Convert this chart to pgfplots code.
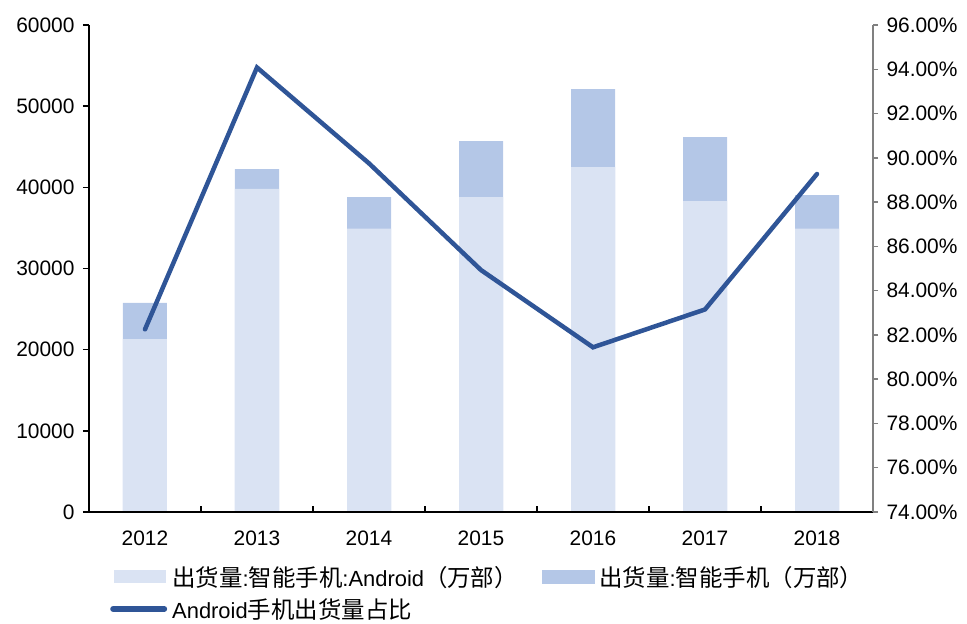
\documentclass[border=0pt]{standalone}
\usepackage{pgfplots}
\pgfplotsset{compat=1.18}
\usepackage{fontspec}
\setmainfont{Liberation Sans}
\newfontfamily\cjk{Noto Sans CJK SC}[Scale=1.07]
\definecolor{andr}{HTML}{DAE3F3}
\definecolor{tot}{HTML}{B4C7E7}
\definecolor{ln}{HTML}{2F5597}
\begin{document}
\begin{tikzpicture}
\useasboundingbox (-89bp,-112bp) rectangle (878bp,512bp);
\pgfplotsset{base/.style={scale only axis, width=784bp, height=487bp, at={(0,0)}, anchor=south west,
  xmin=-0.5, xmax=6.5, /pgf/number format/assume math mode=true,
  tick label style={font=\fontsize{21}{25}\selectfont}}}
% bars
\begin{axis}[base, ymin=0, ymax=60000, ytick={0,10000,...,60000}, scaled y ticks=false,
  yticklabel style={/pgf/number format/1000 sep={}}, yticklabel shift=5bp,
  axis y line*=left, axis x line*=bottom, axis line style={-, black, line width=1.5bp},
  tick align=outside, major tick length=6bp, tick style={black, line width=1.5bp},
  xtick={0,...,6}, xticklabels={2012,2013,2014,2015,2016,2017,2018}, xtick style={draw=none},
  xticklabel shift=9bp,
  ybar, bar width=44bp,
  legend columns=2,
  legend style={draw=none, fill=none, at={(0,0)}, anchor=north west, xshift=21bp, yshift=-54bp,
    font=\fontsize{22}{26}\selectfont, inner sep=0pt, row sep=10.5bp, column sep=0bp,
    nodes={inner sep=0bp},
    /tikz/every odd column/.append style={column sep=5bp},
    /tikz/every even column/.append style={column sep=24bp}},
  legend cell align=left]
\addplot[fill=tot, draw=none, bar shift=0pt, forget plot] coordinates {(0,25750) (1,42250) (2,38800) (3,45700) (4,52100) (5,46200) (6,39050)};
\addplot[fill=andr, draw=none, bar shift=0pt, legend image code/.code={\fill[andr] (0bp,-6.5bp) rectangle (52bp,6.5bp);}] coordinates {(0,21300) (1,39800) (2,34900) (3,38800) (4,42500) (5,38300) (6,34900)};
\addlegendentry{{\cjk 出货量}:{\cjk 智能手机}:Android{\cjk （万部）}}
\addlegendimage{legend image code/.code={\fill[tot] (0bp,-6.5bp) rectangle (52bp,6.5bp);}}
\addlegendentry{{\cjk 出货量}:{\cjk 智能手机（万部）}}
\addlegendimage{legend image code/.code={\path[draw=none, fill=none] (0bp,-6.5bp) rectangle (52bp,6.5bp); \draw[ln, line width=6bp, line cap=round] (-1bp,0bp) -- (50bp,0bp);}}
\addlegendentry{Android{\cjk 手机出货量占比}}
\end{axis}
% boundary ticks on x axis
\begin{axis}[base, ymin=0, ymax=1, hide y axis, axis x line*=bottom, axis line style={-, black, line width=1.5bp},
  tick align=inside, major tick length=6bp, tick style={black, line width=1.5bp},
  xtick={0.5,1.5,...,5.5}, xticklabels={}]
\end{axis}
% line
\begin{axis}[base, ymin=74, ymax=96, ytick={74,76,...,96}, axis y line*=right, axis x line=none,
  y axis line style={-, gray, line width=1.5bp}, tick align=outside, major tick length=5bp,
  ytick style={gray, line width=1.5bp},
  yticklabel={\pgfmathprintnumber[fixed,fixed zerofill,precision=2]{\tick}\%},
  yticklabel shift=5bp]
\addplot[ln, line width=4.5bp, line cap=round] coordinates {(0,82.25) (1,94.08) (2,89.75) (3,84.93) (4,81.44) (5,83.15) (6,89.27)};
\end{axis}
\end{tikzpicture}
\end{document}
